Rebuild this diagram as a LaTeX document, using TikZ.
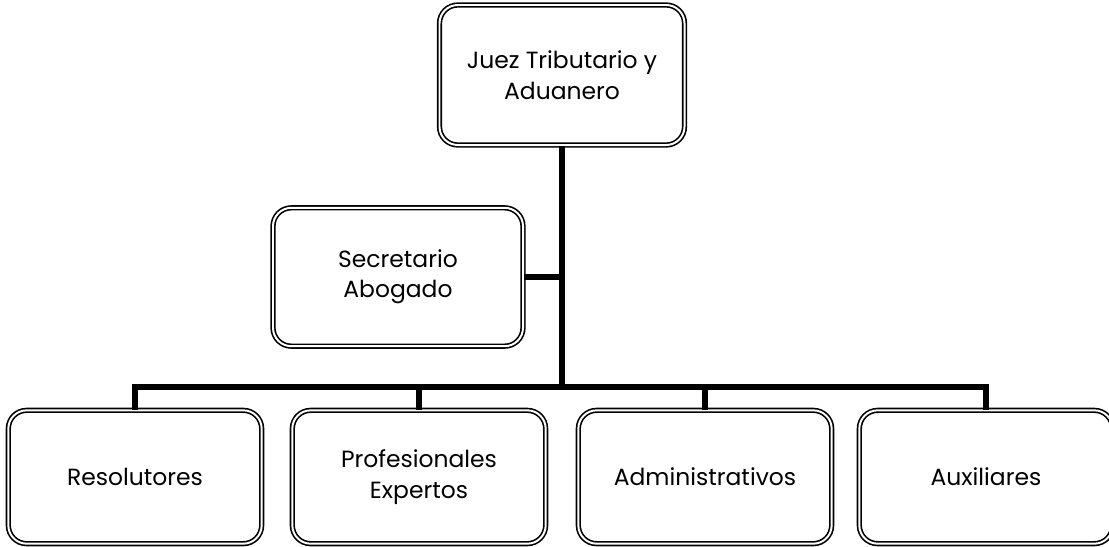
\documentclass[tikz,border=0pt]{standalone}
\usepackage{fontspec}
\setmainfont{Poppins}
\usetikzlibrary{positioning}
\begin{document}
\begin{tikzpicture}[
            x = 0.03cm, y = -0.03cm, % one unit = one pixel of the sketch
            unit/.style = {draw, double, double distance = 1.7pt, line width = 1.4pt,
                           rounded corners = 0.55cm, align = center, inner sep = 0pt,
                           font = \fontsize{20}{26}\selectfont},
            top/.style = {unit, minimum width = 7.35cm, minimum height = 4.2cm},
            staff/.style = {unit, minimum width = 7.6cm, minimum height = 4.0cm},
            link/.style = {line width = 5.2pt}
        ]
        \useasboundingbox (0,0) rectangle (1109,546);

        % head of the court
        \node[top] (J) at (562,75) {Juez Tributario y\\Aduanero};

        % secretary
        \node[top, minimum width = 7.5cm, minimum height = 4.15cm] (S) at (398,277) {Secretario\\Abogado};

        % staff level
        \node[staff] (R) at (135,477) {Resolutores};
        \node[staff] (P) at (419,477) {Profesionales\\Expertos};
        \node[staff] (A) at (705,477) {Administrativos};
        \node[staff] (X) at (986,477) {Auxiliares};

        \coordinate (hub) at (562,387);

        \draw[link] (J.south) -- (hub);
        \draw[link] (S.east) -- (S.east -| hub);
        \foreach \n in {R, P, A, X}
            \draw[link] (hub) -| (\n.north);

\end{tikzpicture}
\end{document}
